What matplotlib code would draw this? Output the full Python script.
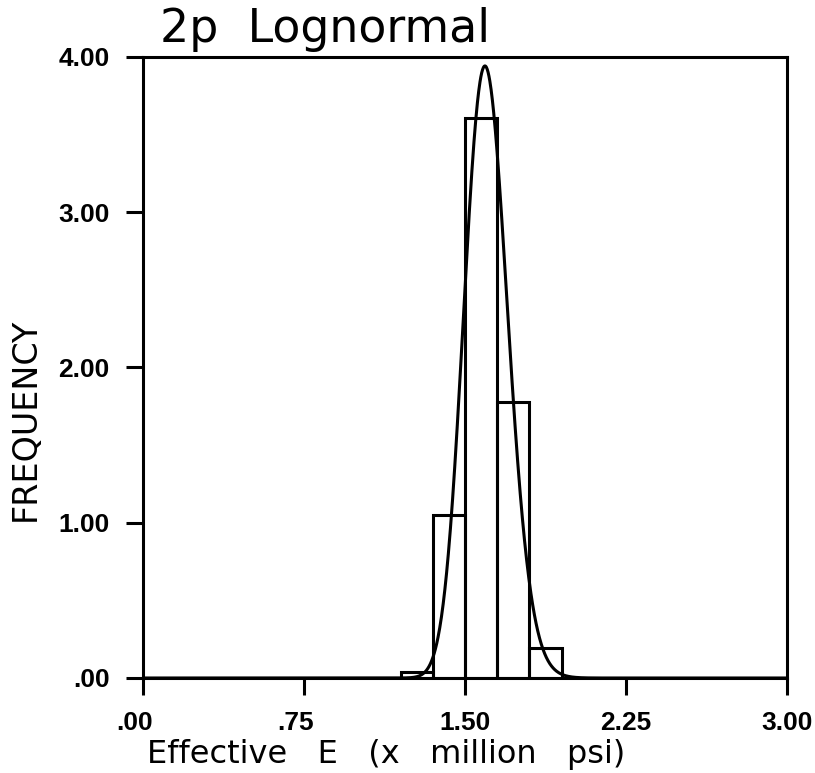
import numpy as np
import matplotlib
matplotlib.use("Agg")
import matplotlib.pyplot as plt
from matplotlib.transforms import ScaledTranslation

# Histogram of effective modulus with a fitted two-parameter lognormal density

bin_edges = [1.20, 1.35, 1.50, 1.65, 1.80, 1.95]
frequency = [0.04, 1.05, 3.61, 1.78, 0.19]

# fitted lognormal parameters (log-space mean and standard deviation)
mu = 0.4696
sigma = 0.0634

x_ticks = [0.0, 0.75, 1.50, 2.25, 3.00]
x_tick_labels = [".00", ".75", "1.50", "2.25", "3.00"]
y_ticks = [0.0, 1.0, 2.0, 3.0, 4.0]
y_tick_labels = [".00", "1.00", "2.00", "3.00", "4.00"]

fig = plt.figure(figsize=(8.15, 7.73), dpi=100)
ax = fig.add_axes([0.1755, 0.1229, 0.7901, 0.8034])

lw = 2.2
widths = np.diff(bin_edges)
ax.bar(bin_edges[:-1], frequency, width=widths, align="edge",
       fill=False, edgecolor="black", linewidth=lw, zorder=2)

xs = np.linspace(0.01, 3.0, 1500)
pdf = np.exp(-(np.log(xs) - mu) ** 2 / (2 * sigma ** 2)) / (xs * sigma * np.sqrt(2 * np.pi))
ax.plot(xs, pdf, color="black", linewidth=lw, zorder=3)

ax.set_xlim(0, 3)
ax.set_ylim(0, 4)
ax.set_xticks(x_ticks)
ax.set_xticklabels(x_tick_labels)
ax.set_yticks(y_ticks)
ax.set_yticklabels(y_tick_labels)

for side in ["left", "right", "top", "bottom"]:
    ax.spines[side].set_linewidth(lw)

ax.tick_params(axis="both", direction="out", length=12, width=lw, pad=12,
               labelsize=19, top=False, right=False)
for lab in ax.get_xticklabels() + ax.get_yticklabels():
    lab.set_fontfamily("Liberation Sans")
    lab.set_fontweight("bold")

# the short labels sit a little left of their ticks
nudge = ScaledTranslation(-8 / 100, 0, fig.dpi_scale_trans)
for lab in ax.get_xticklabels()[:2]:
    lab.set_transform(lab.get_transform() + nudge)

fig.text(160 / 815, 1 - 42 / 773, "2p  Lognormal", fontsize=33,
         family="DejaVu Sans", ha="left", va="baseline")
fig.text(147 / 815, 1 - 763 / 773, "Effective   E   (x   million   psi)",
         fontsize=23, family="DejaVu Sans", ha="left", va="baseline")
fig.text(25 / 815, 1 - 419 / 773, "FREQUENCY", fontsize=24,
         family="DejaVu Sans", rotation=90, ha="center", va="center")

fig.savefig("out.png", dpi=100, facecolor="white")
